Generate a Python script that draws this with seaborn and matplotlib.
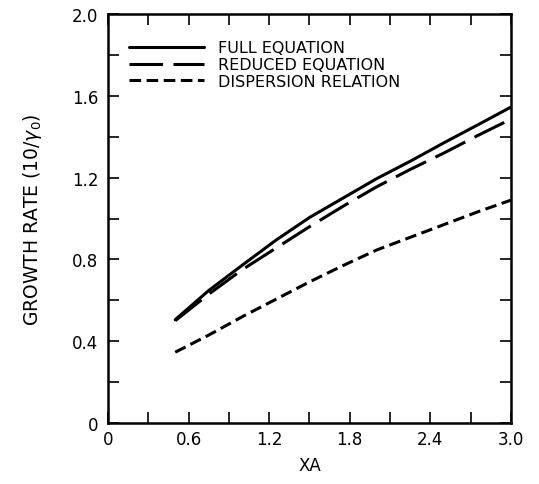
import matplotlib
matplotlib.use("Agg")
import matplotlib.pyplot as plt
import seaborn as sns
import pandas as pd
from matplotlib.ticker import MultipleLocator

sns.set_theme(style="ticks")
plt.rcParams['font.family'] = ['DejaVu Sans']
plt.rcParams['mathtext.fontset'] = 'dejavusans'

# ---- data ----
x_full = [0.5, 0.75, 1.0, 1.25, 1.5, 1.75, 2.0, 2.25, 2.5, 2.75, 3.0]
y_full = [0.505, 0.648, 0.772, 0.894, 1.005, 1.10, 1.195, 1.28, 1.37, 1.457, 1.545]

x_red = [0.5, 0.75, 1.0, 1.25, 1.5, 1.75, 2.0, 2.25, 2.5, 2.75, 2.95]
y_red = [0.50, 0.63, 0.75, 0.855, 0.96, 1.06, 1.155, 1.24, 1.32, 1.405, 1.47]

x_disp = [0.5, 0.75, 1.0, 1.25, 1.5, 1.75, 2.0, 2.25, 2.5, 2.75, 3.0]
y_disp = [0.346, 0.43, 0.52, 0.605, 0.69, 0.77, 0.846, 0.908, 0.97, 1.032, 1.09]

labels = ["FULL EQUATION", "REDUCED EQUATION", "DISPERSION RELATION"]

xticks = [0, 0.6, 1.2, 1.8, 2.4, 3.0]
xticklabels = ["0", "0.6", "1.2", "1.8", "2.4", "3.0"]
yticks = [0, 0.4, 0.8, 1.2, 1.6, 2.0]
yticklabels = ["0", "0.4", "0.8", "1.2", "1.6", "2.0"]

df = pd.concat([
    pd.DataFrame({"x": x_full, "y": y_full, "curve": labels[0]}),
    pd.DataFrame({"x": x_red, "y": y_red, "curve": labels[1]}),
    pd.DataFrame({"x": x_disp, "y": y_disp, "curve": labels[2]}),
])

fig = plt.figure(figsize=(5.39, 4.85), dpi=100)
ax = fig.add_axes([0.2004, 0.1258, 0.7476, 0.8432])

sns.lineplot(data=df, x="x", y="y", hue="curve", style="curve",
             palette=["black"] * 3, hue_order=labels, style_order=labels,
             dashes={labels[0]: "", labels[1]: (11, 3.4), labels[2]: (3.8, 1.8)},
             linewidth=2.2, ax=ax, sort=False, estimator=None)

ax.set_xlim(0, 3.0)
ax.set_ylim(0, 2.0)
ax.set_xticks(xticks)
ax.set_xticklabels(xticklabels)
ax.set_yticks(yticks)
ax.set_yticklabels(yticklabels)
ax.xaxis.set_minor_locator(MultipleLocator(0.3))
ax.yaxis.set_minor_locator(MultipleLocator(0.2))
ax.tick_params(which="both", direction="in", top=True, right=True,
               length=8, width=1.2, color="black")
ax.tick_params(which="major", labelsize=12, labelcolor="black")
ax.tick_params(axis="x", which="major", pad=5)
ax.tick_params(axis="y", which="major", pad=7)
for s in ax.spines.values():
    s.set_linewidth(1.8)
    s.set_color("black")

ax.set_xlabel("XA", fontsize=12, labelpad=6, color="black")
ax.set_ylabel(r"GROWTH RATE (10/$\gamma_0$)", fontsize=13.5, labelpad=20, color="black")

leg = ax.legend(loc="upper left", frameon=False, handlelength=4.7,
                fontsize=11.5, labelspacing=0.12, borderaxespad=0.6,
                handletextpad=0.9, bbox_to_anchor=(0.012, 0.975))
for t in leg.get_texts():
    t.set_color("black")

fig.savefig("out.png", dpi=100)
